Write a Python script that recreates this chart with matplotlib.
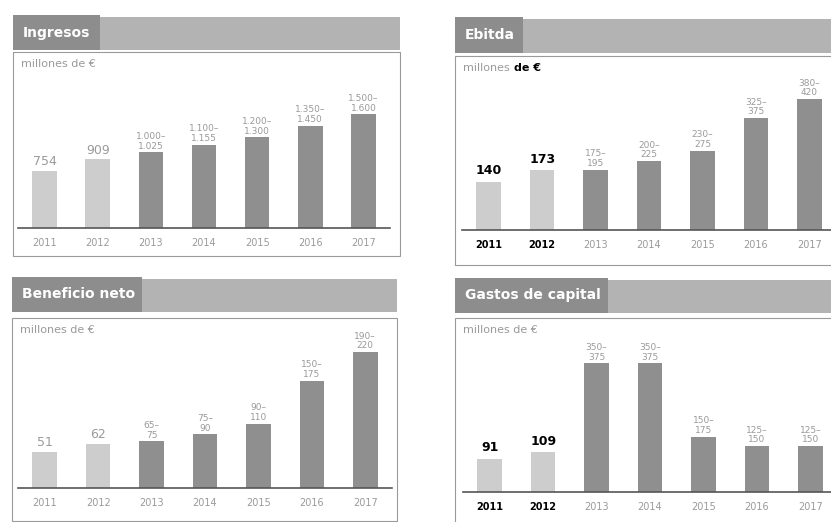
import matplotlib.pyplot as plt
from matplotlib.patches import Rectangle

# datos (millones de €), 2011-2012 reales, 2013-2017 rangos previstos
years = ['2011', '2012', '2013', '2014', '2015', '2016', '2017']

ingresos_low = [754, 909, 1000, 1100, 1200, 1350, 1500]
ingresos_high = [754, 909, 1025, 1155, 1300, 1450, 1600]

ebitda_low = [140, 173, 175, 200, 230, 325, 380]
ebitda_high = [140, 173, 195, 225, 275, 375, 420]

beneficio_low = [51, 62, 65, 75, 90, 150, 190]
beneficio_high = [51, 62, 75, 90, 110, 175, 220]

capex_low = [91, 109, 350, 350, 150, 125, 125]
capex_high = [91, 109, 375, 375, 175, 150, 150]

W, H = 831, 522
fig = plt.figure(figsize=(W / 100, H / 100), dpi=100)

def fmt(v):
    return f'{v:,}'.replace(',', '.')

def rect_px(x0, y0, x1, y1, **kw):
    # rectangle given in pixel coords (y from top)
    fig.patches.append(Rectangle((x0 / W, 1 - y1 / H), (x1 - x0) / W, (y1 - y0) / H,
                                 transform=fig.transFigure, **kw))

def panel(title, low, high, hdr, tab_x1, box, ax_px, ymax, bold_hist, bold_unit=False):
    hx0, hy0, hx1, hy1 = hdr
    rect_px(tab_x1, hy0 + 2, hx1, hy1, facecolor='#b3b3b3', edgecolor='none')
    rect_px(hx0, hy0, tab_x1, hy1, facecolor='#8d8d8d', edgecolor='none')
    fig.text((hx0 + 10) / W, 1 - (hy0 + hy1) / 2 / H, title, color='white',
             fontsize=10, fontweight='bold', va='center', ha='left')

    bx0, by0, bx1, by1 = box
    rect_px(bx0, by0, bx1, by1, facecolor='none', edgecolor='#9a9a9a', linewidth=0.8)
    if bold_unit:
        fig.text((bx0 + 8) / W, 1 - (by0 + 12) / H, 'millones', color='#9a9a9a',
                 fontsize=8, va='center', ha='left')
        fig.text((bx0 + 59) / W, 1 - (by0 + 12) / H, 'de €', color='black',
                 fontsize=8, fontweight='bold', va='center', ha='left')
    else:
        fig.text((bx0 + 8) / W, 1 - (by0 + 12) / H, 'millones de €', color='#9a9a9a',
                 fontsize=8, va='center', ha='left')

    l, t, r, b = ax_px
    ax = fig.add_axes([l / W, 1 - b / H, (r - l) / W, (b - t) / H])
    x = range(len(years))
    colors = ['#cdcdcd'] * 2 + ['#8f8f8f'] * (len(years) - 2)
    ax.bar(x, low, width=0.46, color=colors)
    for i, (lo, hi) in enumerate(zip(low, high)):
        if lo == hi:
            if bold_hist:
                ax.text(i, lo + ymax * 0.025, fmt(lo), ha='center', va='bottom',
                        fontsize=9, fontweight='bold', color='black')
            else:
                ax.text(i, lo + ymax * 0.015, fmt(lo), ha='center', va='bottom',
                        fontsize=9, color='#9a9a9a')
        else:
            ax.text(i, lo + ymax * 0.01, f'{fmt(lo)}–\n{fmt(hi)}', ha='center',
                    va='bottom', fontsize=6.5, color='#9a9a9a', linespacing=1.1)
    ax.set_xlim(-0.5, len(years) - 0.5)
    ax.set_ylim(0, ymax)
    ax.set_xticks(list(x))
    ax.set_xticklabels(years, fontsize=7, color='#9a9a9a')
    if bold_hist:
        for lab in ax.get_xticklabels()[:2]:
            lab.set_color('black')
            lab.set_fontweight('bold')
    ax.tick_params(axis='x', length=0, pad=7)
    ax.set_yticks([])
    for s in ['top', 'right', 'left']:
        ax.spines[s].set_visible(False)
    ax.spines['bottom'].set_color('#555555')
    ax.spines['bottom'].set_linewidth(1.2)
    ax.patch.set_alpha(0)
    return ax

panel('Ingresos', ingresos_low, ingresos_high,
      (13, 15, 400, 50), 100, (13, 52, 400, 256), (18, 60, 390, 228), 2220, False)
panel('Ebitda', ebitda_low, ebitda_high,
      (455, 17, 831, 53), 523, (455, 56, 832, 265), (462, 60, 836, 230), 493, True, True)
panel('Beneficio neto', beneficio_low, beneficio_high,
      (12, 277, 397, 312), 142, (12, 318, 397, 521), (18, 322, 392, 488), 232, False)
panel('Gastos de capital', capex_low, capex_high,
      (455, 278, 831, 313), 608, (455, 318, 832, 523), (463, 322, 837, 492), 462, True)

fig.savefig('out.png', dpi=100)
